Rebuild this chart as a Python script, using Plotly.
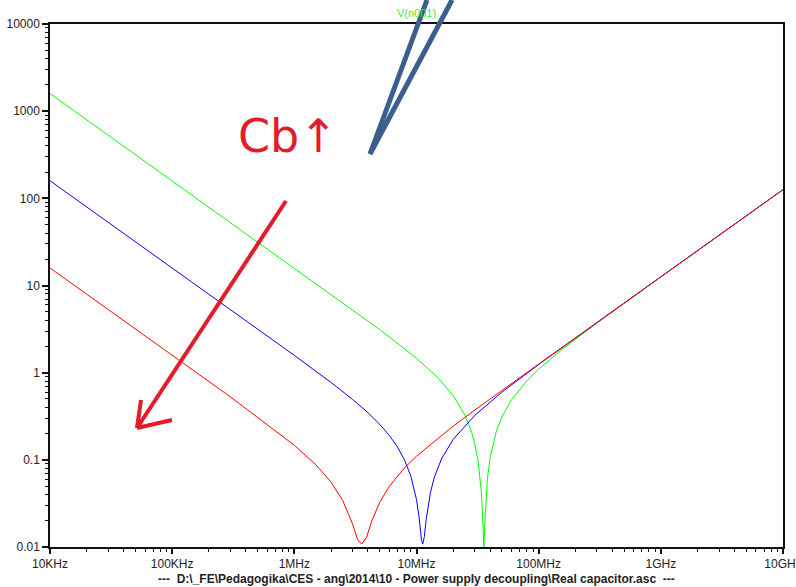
import plotly.graph_objects as go

# ---- data (|Z| in ohms vs frequency in Hz) ----
freq_green = [1e4, 1e5, 1e6, 3e6, 5e6, 1e7, 1.5e7, 2e7, 2.5e7, 2.8e7, 3e7, 3.2e7, 3.4e7,
              3.5e7, 3.56e7, 3.62e7, 3.7e7, 3.8e7, 4e7, 4.5e7, 5e7, 6e7, 8e7, 1e8,
              1.5e8, 2e8, 3e8, 1e9, 1e10]
z_green = [1591, 159.1, 15.90, 5.27, 3.12, 1.466, 0.873, 0.544, 0.322, 0.217, 0.1535, 0.0952,
           0.0420, 0.0180, 0.0099, 0.0182, 0.0362, 0.0596, 0.1052, 0.212, 0.310, 0.489,
           0.806, 1.098, 1.779, 2.434, 3.717, 12.55, 125.7]

freq_blue = [1e4, 1e5, 1e6, 2e6, 3e6, 4e6, 5e6, 6e6, 7e6, 8e6, 9e6, 1e7, 1.05e7, 1.1e7,
             1.125e7, 1.16e7, 1.2e7, 1.3e7, 1.4e7, 1.6e7, 2e7, 3e7, 5e7, 1e8, 2e8, 1e9, 1e10]
z_blue = [159.2, 15.9, 1.579, 0.771, 0.493, 0.348, 0.2555, 0.190, 0.1398, 0.0989, 0.0645,
          0.0350, 0.0220, 0.0119, 0.0108, 0.0132, 0.0207, 0.0421, 0.0631, 0.1021, 0.172,
          0.324, 0.597, 1.241, 2.505, 12.56, 125.7]

freq_red = [1e4, 1e5, 3e5, 1e6, 1.5e6, 2e6, 2.5e6, 3e6, 3.3e6, 3.56e6, 3.9e6, 4.3e6, 5e6,
            6e6, 8e6, 1e7, 2e7, 3e7, 5e7, 1e8, 1e9, 1e10]
z_red = [15.9, 1.59, 0.527, 0.147, 0.0878, 0.0554, 0.0338, 0.0183, 0.0121, 0.0108, 0.0129,
         0.0198, 0.0326, 0.0499, 0.0813, 0.110, 0.244, 0.372, 0.625, 1.255, 12.57, 125.7]

x_tickvals = [1e4, 1e5, 1e6, 1e7, 1e8, 1e9, 1e10]
x_ticktext = ["10KHz", "100KHz", "1MHz", "10MHz", "100MHz", "1GHz", "10GHz"]
y_tickvals = [0.01, 0.1, 1, 10, 100, 1000, 10000]
y_ticktext = ["0.01", "0.1", "1", "10", "100", "1000", "10000"]

trace_label = "V(n001)"
file_label = "---  D:\\_FE\\Pedagogika\\CES - ang\\2014\\10 - Power supply decoupling\\Real capacitor.asc  ---"
hand_label = "Cb\u2191"

fig = go.Figure()
fig.add_trace(go.Scatter(x=freq_green, y=z_green, mode="lines",
                         line=dict(color="#00ff00", width=1), showlegend=False))
fig.add_trace(go.Scatter(x=freq_blue, y=z_blue, mode="lines",
                         line=dict(color="#0000ff", width=1), showlegend=False))
fig.add_trace(go.Scatter(x=freq_red, y=z_red, mode="lines",
                         line=dict(color="#ff0000", width=1), showlegend=False))

x_minor = [m * 10 ** e for e in range(4, 10) for m in range(2, 10)]
y_minor = [m * 10 ** e for e in range(-2, 4) for m in range(2, 10)]

W, H = 796, 587
L, R, T, B = 50, 13, 24, 40
pw, ph = W - L - R, H - T - B


def px(xp):
    return (xp - L) / pw


def py(yp):
    return (H - B - yp) / ph


axis_font = dict(family="Liberation Sans, Arial, sans-serif", size=12, color="#222222")

fig.update_layout(
    width=W, height=H,
    margin=dict(l=L, r=R, t=T, b=B, pad=0),
    paper_bgcolor="white", plot_bgcolor="white",
    xaxis=dict(type="log", range=[4, 10], tickmode="array", tickvals=x_tickvals,
               ticktext=x_ticktext, ticks="outside", ticklen=5, tickwidth=1.5,
               tickcolor="#111111", showline=True, linecolor="#111111", linewidth=1.5,
               mirror=True, showgrid=False, zeroline=False, tickfont=axis_font,
               automargin=False, ticklabeloverflow="allow",
               minor=dict(tickmode="array", tickvals=x_minor, ticks="outside",
                          ticklen=3, tickwidth=1.2, tickcolor="#111111", showgrid=False)),
    yaxis=dict(type="log", range=[-2, 4], tickmode="array", tickvals=y_tickvals,
               ticktext=y_ticktext, ticks="outside", ticklen=6, tickwidth=1.5,
               tickcolor="#111111", showline=True, linecolor="#111111", linewidth=1.5,
               mirror=True, showgrid=False, zeroline=False, tickfont=axis_font,
               automargin=False, ticklabeloverflow="allow",
               minor=dict(tickmode="array", tickvals=y_minor, ticks="outside",
                          ticklen=3, tickwidth=1.2, tickcolor="#111111", showgrid=False)),
)

# trace label at top centre
fig.add_annotation(text=trace_label, xref="paper", yref="paper", x=0.5, y=py(13),
                   showarrow=False, xanchor="center", yanchor="middle",
                   font=dict(family="Liberation Sans, Arial, sans-serif", size=11, color="#33ee33"))

# file name at bottom
fig.add_annotation(text="<b>" + file_label + "</b>", xref="paper", yref="paper", x=0.5,
                   y=py(579), showarrow=False, xanchor="center", yanchor="middle",
                   font=dict(family="Liberation Sans, Arial, sans-serif", size=12, color="#222222"))

# hand-written note
fig.add_annotation(text=hand_label, xref="paper", yref="paper", x=px(288), y=py(136),
                   showarrow=False, xanchor="center", yanchor="middle",
                   font=dict(family="DejaVu Sans, sans-serif", size=46, color="#e31b2b"))

pen_red = dict(color="#e31b2b", width=4)
pen_blue = dict(color="#3b5e8c", width=5)


def stroke(x0, y0, x1, y1, line):
    fig.add_shape(type="line", xref="paper", yref="paper", x0=px(x0), y0=py(y0),
                  x1=px(x1), y1=py(y1), line=line, layer="above")


# red arrow
stroke(286, 201, 137, 428, pen_red)
stroke(137, 428, 141, 400, pen_red)
stroke(137, 428, 172, 420, pen_red)

# dark blue pen strokes at the top
stroke(370, 154, 427, 0, pen_blue)
stroke(370, 154, 452, 0, pen_blue)

fig.write_html("out.html")
